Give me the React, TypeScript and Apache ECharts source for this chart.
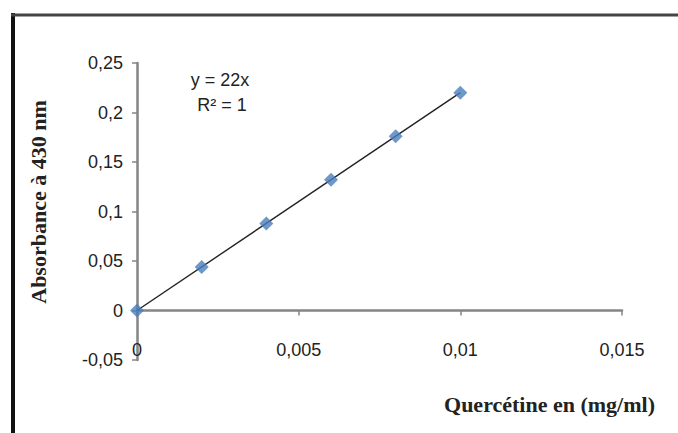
import React, { useEffect, useRef } from "react";
import * as echarts from "echarts";

const concentrations = [0, 0.002, 0.004, 0.006, 0.008, 0.01];
const absorbances = [0, 0.044, 0.088, 0.132, 0.176, 0.22];
const trendStart = [0, 0];
const trendEnd = [0.01, 0.22];
const equationLines = ["y = 22x", "R² = 1"];
const xTitle = "Quercétine en (mg/ml)";
const yTitle = "Absorbance à 430 nm";

const fmt = (v: number) => String(+v.toFixed(4)).replace(".", ",");

export default function App() {
  const ref = useRef<HTMLDivElement>(null);
  useEffect(() => {
    if (!ref.current) return;
    const chart = echarts.init(ref.current, undefined, { renderer: "svg" });
    const labelFont = "'Liberation Sans', Arial, sans-serif";
    const serif = "'Liberation Serif', 'Times New Roman', serif";
    chart.setOption({
      animation: false,
      backgroundColor: "#ffffff",
      grid: { left: 137, right: 56, top: 63, bottom: 73 },
      xAxis: {
        type: "value",
        min: 0,
        max: 0.015,
        interval: 0.005,
        splitLine: { show: false },
        axisLine: { onZero: true, lineStyle: { color: "#858585", width: 2.5 } },
        axisTick: { show: true, length: 5, lineStyle: { color: "#858585", width: 1.5 } },
        axisLabel: {
          margin: -19,
          color: "#222",
          fontSize: 18,
          fontFamily: labelFont,
          formatter: (v: number) => fmt(v),
        },
      },
      yAxis: {
        type: "value",
        min: -0.05,
        max: 0.25,
        interval: 0.05,
        splitLine: { show: false },
        axisLine: { lineStyle: { color: "#858585", width: 2.5 } },
        axisTick: { show: true, length: 5, lineStyle: { color: "#858585", width: 1.5 } },
        axisLabel: {
          margin: 14,
          color: "#222",
          fontSize: 18,
          fontFamily: labelFont,
          formatter: (v: number) => fmt(v),
        },
      },
      series: [
        {
          type: "line",
          data: [trendStart, trendEnd],
          showSymbol: false,
          lineStyle: { color: "#222", width: 1.4 },
          z: 2,
        },
        {
          type: "scatter",
          data: concentrations.map((c, i) => [c, absorbances[i]]),
          symbol: "diamond",
          symbolSize: [14, 14],
          itemStyle: { color: "#4a7ebb" },
          z: 3,
        },
      ],
      graphic: [
        {
          type: "line",
          shape: { x1: 13, y1: 13, x2: 13, y2: 433 },
          style: { stroke: "#111", lineWidth: 4 },
        },
        {
          type: "line",
          shape: { x1: 11, y1: 15, x2: 678, y2: 15 },
          style: { stroke: "#444", lineWidth: 3 },
        },
        {
          type: "text",
          x: 220,
          y: 80,
          style: {
            text: equationLines[0],
            fontSize: 18,
            fontFamily: labelFont,
            fill: "#222",
            align: "center",
            verticalAlign: "middle",
          },
        },
        {
          type: "text",
          x: 222,
          y: 105,
          style: {
            text: equationLines[1],
            fontSize: 18,
            fontFamily: labelFont,
            fill: "#222",
            align: "center",
            verticalAlign: "middle",
          },
        },
        {
          type: "text",
          x: 38,
          y: 202,
          rotation: Math.PI / 2,
          style: {
            text: yTitle,
            fontSize: 22,
            fontWeight: "bold",
            fontFamily: serif,
            fill: "#222",
            align: "center",
            verticalAlign: "middle",
          },
        },
        {
          type: "text",
          x: 655,
          y: 404,
          style: {
            text: xTitle,
            fontSize: 22,
            fontFamily: serif,
            fontWeight: "bold",
            fill: "#222",
            align: "right",
            verticalAlign: "middle",
          },
        },
      ],
    });
    return () => chart.dispose();
  }, []);
  return <div ref={ref} style={{ width: 678, height: 433, position: "absolute", left: 0, top: 0 }} />;
}
